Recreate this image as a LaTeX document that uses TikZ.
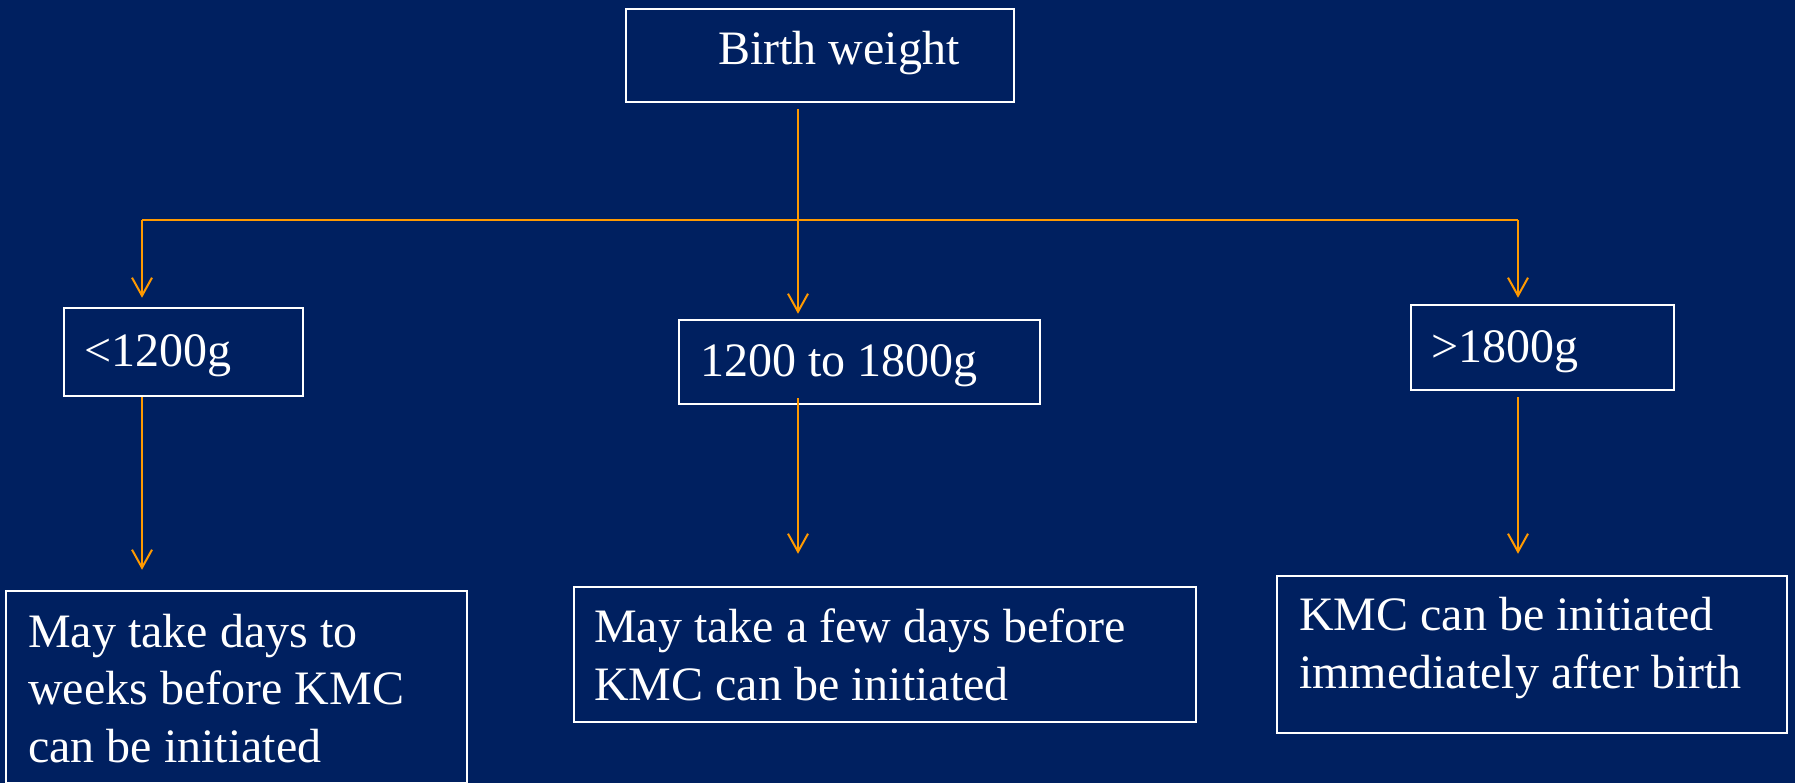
\documentclass[tikz,border=0pt]{standalone}
\usepackage{fontspec}
\setmainfont{Liberation Serif}
\usetikzlibrary{arrows.meta}
\definecolor{bgnavy}{RGB}{0,32,96}
\definecolor{arrorange}{RGB}{255,153,0}
\begin{document}
\begin{tikzpicture}[x=1pt,y=-1pt,
  box/.style={draw=white, line width=2.5pt, inner sep=0pt},
  txt/.style={text=white, font=\fontsize{48}{57.5}\selectfont, inner sep=0pt, anchor=base west, align=left},
  conn/.style={draw=arrorange, line width=2pt},
  arr/.style={conn, -{Straight Barb[length=18pt,width=20pt,line width=2pt]}}]
\fill[bgnavy] (0,0) rectangle (1795,783);
\useasboundingbox (0,0) rectangle (1795,783);
% boxes
\node[box, minimum width=388pt, minimum height=93pt] (bw) at (820,55.5) {};
\node[box, minimum width=239pt, minimum height=88pt] (b1) at (183.5,352) {};
\node[box, minimum width=361pt, minimum height=84pt] (b2) at (859.5,362) {};
\node[box, minimum width=263pt, minimum height=85pt] (b3) at (1542.5,347.5) {};
\node[box, minimum width=461pt, minimum height=192pt] (c1) at (236.5,687) {};
\node[box, minimum width=622pt, minimum height=135pt] (c2) at (885,654.5) {};
\node[box, minimum width=510pt, minimum height=157pt] (c3) at (1532,654.5) {};
% texts
\node[txt] (t0) at (718,65) {Birth weight};
\node[txt] (t1) at (84,366) {<1200g};
\node[txt] (t2) at (700,376) {1200 to 1800g};
\node[txt] (t3) at (1431,362) {>1800g};
\node[txt] (u1) at (28,762) {May take days to\\weeks before KMC\\can be initiated};
\node[txt] (u2) at (594,700) {May take a few days before\\KMC can be initiated};
\node[txt] (u3) at (1299,688) {KMC can be initiated\\immediately after birth};
% junctions
\coordinate (j) at (798,220);
\coordinate (hl) at (142,220);
\coordinate (hr) at (1518,220);
% connectors
\draw[arr] ([yshift=-6pt]bw.south -| j) -- ([yshift=5pt]b2.north -| j);
\draw[conn] (hl) -- (hr);
\draw[arr] (hl) -- ([yshift=9pt]b1.north -| hl);
\draw[arr] (hr) -- ([yshift=6pt]b3.north -| hr);
\draw[arr] (b1.south -| hl) -- ([yshift=20pt]c1.north -| hl);
\draw[arr] ([yshift=7pt]b2.south -| j) -- ([yshift=32pt]c2.north -| j);
\draw[arr] ([yshift=-6pt]b3.south -| hr) -- ([yshift=21pt]c3.north -| hr);
\end{tikzpicture}
\end{document}
